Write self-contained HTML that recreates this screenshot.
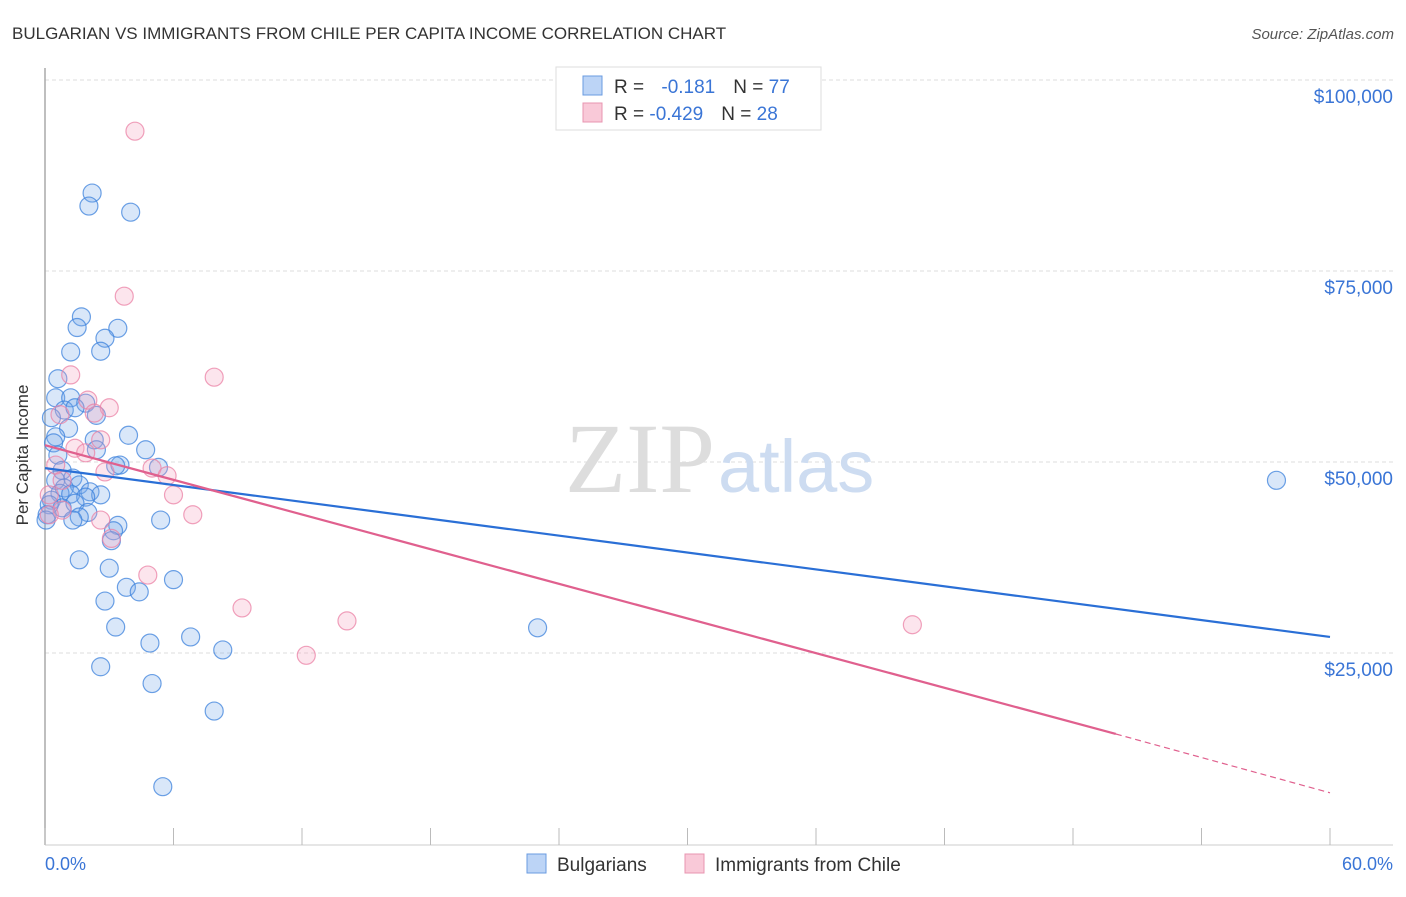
<!DOCTYPE html>
<html><head><meta charset="utf-8"><style>
body{margin:0;background:#fff;font-family:"Liberation Sans",sans-serif}
svg text{font-family:"Liberation Sans",sans-serif}
</style></head><body>
<svg width="1406" height="892" xmlns="http://www.w3.org/2000/svg">
<text x="12" y="39" font-size="17" fill="#333">BULGARIAN VS IMMIGRANTS FROM CHILE PER CAPITA INCOME CORRELATION CHART</text>
<text x="1394" y="39" font-size="15" fill="#555" text-anchor="end" font-style="italic">Source: ZipAtlas.com</text>
<g id="grid"></g>
<text x="715" y="492" font-size="100" fill="#ddd" text-anchor="end" style="font-family:'Liberation Serif',serif">ZIP</text>
<text x="718" y="492" font-size="74" fill="#cddcf1">atlas</text>
<line x1="45" y1="68" x2="45" y2="845" stroke="#aaa" stroke-width="1.5"/>
<line x1="45" y1="845" x2="1393" y2="845" stroke="#ccc"/>
<g id="ticks"></g>
<g id="pts"></g>
<g id="trends"></g>
<text x="28" y="455" font-size="17" fill="#333" text-anchor="middle" transform="rotate(-90 28 455)">Per Capita Income</text>
<text x="45" y="870" font-size="18" fill="#3a75d6">0.0%</text>
<text x="1393" y="870" font-size="18" fill="#3a75d6" text-anchor="end">60.0%</text>
<g>
<rect x="556" y="67" width="265" height="63" fill="#fff" stroke="#ddd"/>
<rect x="583" y="76" width="19" height="19" fill="#bcd4f6" stroke="#6a9be0"/>
<rect x="583" y="103" width="19" height="19" fill="#f9c9d8" stroke="#e895b0"/>
<text x="614" y="93" font-size="19" fill="#333">R = <tspan fill="#3a75d6" dx="12">-0.181</tspan><tspan dx="18" fill="#333">N = </tspan><tspan fill="#3a75d6">77</tspan></text>
<text x="614" y="120" font-size="19" fill="#333">R = <tspan fill="#3a75d6">-0.429</tspan><tspan dx="18" fill="#333">N = </tspan><tspan fill="#3a75d6">28</tspan></text>
</g>
<g>
<rect x="527" y="854" width="19" height="19" fill="#bcd4f6" stroke="#6a9be0"/>
<text x="557" y="871" font-size="19" fill="#333">Bulgarians</text>
<rect x="685" y="854" width="19" height="19" fill="#f9c9d8" stroke="#e895b0"/>
<text x="715" y="871" font-size="19" fill="#333">Immigrants from Chile</text>
</g>
</svg>
<script>
const yTicks=[25000,50000,75000,100000];
const yTickLabels=["$25,000","$50,000","$75,000","$100,000"];
const xTicks=[0,6,12,18,24,30,36,42,48,54,60];
const blueX=[2.2,2.05,4.0,1.7,1.5,3.4,2.8,1.2,2.6,0.6,0.5,1.2,1.9,0.9,1.4,2.4,0.3,1.1,3.9,0.5,2.3,0.4,2.4,4.7,0.6,3.5,3.3,0.8,5.3,1.3,0.5,1.6,0.9,2.1,2.6,0.7,1.2,0.3,1.9,0.8,1.4,2.0,1.6,1.3,3.4,5.4,3.2,3.1,1.6,3.0,6.0,3.8,4.4,2.8,3.3,4.9,6.8,8.3,2.6,5.0,7.9,5.5,23.0,57.5,0.2,0.1,0.05];
const blueY=[85.2,83.5,82.7,69.0,67.6,67.5,66.2,64.4,64.5,60.9,58.4,58.4,57.7,56.8,57.1,56.1,55.8,54.4,53.5,53.3,52.9,52.5,51.6,51.6,50.9,49.6,49.5,48.9,49.3,47.9,47.6,47.0,46.6,46.1,45.7,45.9,45.8,45.0,45.4,44.0,44.6,43.4,42.8,42.4,41.7,42.4,41.0,39.7,37.2,36.1,34.6,33.6,33.0,31.8,28.4,26.3,27.1,25.4,23.2,21.0,17.4,7.5,28.3,47.6,44.4,43.1,42.4];
const pinkX=[4.2,3.7,7.9,1.2,2.0,3.0,2.3,0.7,2.6,1.4,1.9,2.8,5.0,5.7,0.5,0.8,0.2,0.8,6.0,6.9,2.6,3.1,4.8,9.2,14.1,12.2,40.5,0.2];
const pinkY=[93.3,71.7,61.1,61.4,58.1,57.1,56.4,56.2,52.9,51.8,51.2,48.7,49.2,48.2,49.6,47.6,45.7,43.7,45.7,43.1,42.4,40.0,35.2,30.9,29.2,24.7,28.7,43.1];
const blueTrend=[[0,49.2],[60,27.1]];
const pinkTrend=[[0,52.2],[50,14.4],[60,6.7]];
const NS="http://www.w3.org/2000/svg";
const X=p=>45+p*(1285/60);
const Y=v=>80+(100-v)*(191/25);
function mk(t,a,parent){const e=document.createElementNS(NS,t);for(const k in a)e.setAttribute(k,a[k]);document.getElementById(parent).appendChild(e);return e;}
yTicks.forEach((v,i)=>{
 const l=mk('line',{x1:45,x2:1393,y1:Y(v/1000),y2:Y(v/1000),stroke:'#ddd','stroke-dasharray':'4,3'},'grid');
 
 
 const t=mk('text',{x:1393,y:Y(v/1000)+23,'font-size':19,fill:'#3a75d6','text-anchor':'end'},'grid');
 t.textContent=yTickLabels[i];
 
 
});
xTicks.forEach(p=>{
 const l=mk('line',{x1:X(p),x2:X(p),y1:828,y2:845,stroke:'#bbb'},'ticks');
 
 
});
blueX.forEach((x,i)=>{
 const c=mk('circle',{cx:X(x),cy:Y(blueY[i]),r:9,fill:'rgba(120,170,235,0.28)',stroke:'rgba(60,130,220,0.75)','stroke-width':1.2},'pts');
 
 
});
pinkX.forEach((x,i)=>{
 const c=mk('circle',{cx:X(x),cy:Y(pinkY[i]),r:9,fill:'rgba(245,160,190,0.28)',stroke:'rgba(235,130,165,0.75)','stroke-width':1.2},'pts');
 
 
});
const bl=mk('line',{x1:X(blueTrend[0][0]),y1:Y(blueTrend[0][1]),x2:X(blueTrend[1][0]),y2:Y(blueTrend[1][1]),stroke:'#2a6fd6','stroke-width':2.2},'trends');


const pl=mk('line',{x1:X(pinkTrend[0][0]),y1:Y(pinkTrend[0][1]),x2:X(pinkTrend[1][0]),y2:Y(pinkTrend[1][1]),stroke:'#e0608e','stroke-width':2.2},'trends');


const pd=mk('line',{x1:X(pinkTrend[1][0]),y1:Y(pinkTrend[1][1]),x2:X(pinkTrend[2][0]),y2:Y(pinkTrend[2][1]),stroke:'#e0608e','stroke-width':1.2,'stroke-dasharray':'6,4'},'trends');


</script>
</body></html>
